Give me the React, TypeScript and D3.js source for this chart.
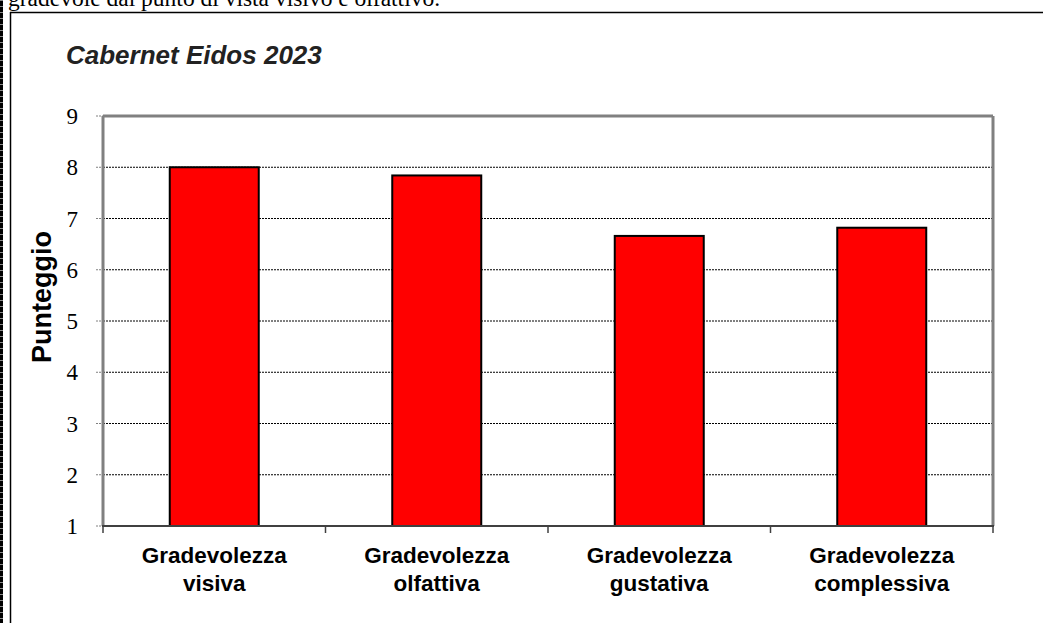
import React from "react";
import * as d3 from "d3";

const categories: string[][] = [
  ["Gradevolezza", "visiva"],
  ["Gradevolezza", "olfattiva"],
  ["Gradevolezza", "gustativa"],
  ["Gradevolezza", "complessiva"],
];
const values: number[] = [8.0, 7.84, 6.66, 6.82];
const yTicks: number[] = [1, 2, 3, 4, 5, 6, 7, 8, 9];
const title = "Cabernet Eidos 2023";
const yLabel = "Punteggio";
const topText = "gradevole dal punto di vista visivo e olfattivo.";

const W = 1043;
const H = 623;
const plot = { left: 103, right: 993, top: 116, bottom: 526 };

export default function App() {
  const x = d3
    .scaleBand<number>()
    .domain(categories.map((_, i) => i))
    .range([plot.left, plot.right])
    .paddingInner(0)
    .paddingOuter(0);
  const y = d3.scaleLinear().domain([1, 9]).range([plot.bottom, plot.top]);
  const barW = x.bandwidth() * 0.4;
  const boundaries = d3.range(categories.length + 1).map(
    (i) => plot.left + i * x.bandwidth()
  );

  return (
    <svg
      width={W}
      height={H}
      style={{ position: "absolute", left: 0, top: 0, background: "#fff" }}
    >
      <rect x={0} y={0} width={W} height={H} fill="#fff" />
      {/* left dashed strip */}
      <rect x={0} y={0} width={3} height={H} fill="#000" />
      <line
        x1={1.5}
        y1={0}
        x2={1.5}
        y2={H}
        stroke="#888"
        strokeWidth={3}
        strokeDasharray="1 5"
      />
      {/* top text (cropped at the top edge, as in the reference) */}
      <text
        x={8}
        y={6}
        fontFamily="Liberation Serif, serif"
        fontSize={23.5}
        fill="#000"
      >
        {topText}
      </text>
      {/* frame */}
      <line x1={10} y1={12.5} x2={W} y2={12.5} stroke="#000" strokeWidth={1.5} />
      <line x1={10.5} y1={12} x2={10.5} y2={H} stroke="#000" strokeWidth={1.5} />

      {/* title */}
      <text
        x={66}
        y={64}
        fontFamily="Liberation Sans, Arial, sans-serif"
        fontSize={26}
        fontWeight="bold"
        fontStyle="italic"
        fill="#222"
      >
        {title}
      </text>

      {/* y label */}
      <text
        transform={`translate(51,297) rotate(-90)`}
        textAnchor="middle"
        fontFamily="Liberation Sans, Arial, sans-serif"
        fontSize={27}
        fontWeight="bold"
        fill="#000"
      >
        {yLabel}
      </text>

      {/* gridlines */}
      {yTicks
        .filter((t) => t !== 1 && t !== 9)
        .map((t) => (
          <line
            key={"g" + t}
            x1={plot.left}
            x2={plot.right}
            y1={y(t)}
            y2={y(t)}
            stroke="#000"
            strokeWidth={1}
            strokeDasharray="2 1"
          />
        ))}

      {/* y ticks and labels */}
      {yTicks.map((t) => (
        <g key={"t" + t}>
          <line
            x1={plot.left - 7}
            x2={plot.left}
            y1={y(t)}
            y2={y(t)}
            stroke="#808080"
            strokeWidth={1}
            strokeDasharray="2 1"
          />
          <text
            x={78}
            y={y(t)}
            dy="0.35em"
            textAnchor="end"
            fontFamily="Liberation Serif, serif"
            fontSize={23}
            fill="#000"
          >
            {t}
          </text>
        </g>
      ))}

      {/* bars */}
      {values.map((v, i) => (
        <rect
          key={"b" + i}
          x={(x(i) as number) + (x.bandwidth() - barW) / 2}
          y={y(v)}
          width={barW}
          height={y(1) - y(v)}
          fill="#ff0000"
          stroke="#000"
          strokeWidth={2}
        />
      ))}

      {/* plot border */}
      <line x1={plot.left} x2={plot.right} y1={plot.top} y2={plot.top} stroke="#808080" strokeWidth={3} />
      <line x1={plot.right} x2={plot.right} y1={plot.top} y2={plot.bottom} stroke="#808080" strokeWidth={3} />
      <line x1={plot.left} x2={plot.left} y1={plot.top} y2={plot.bottom} stroke="#808080" strokeWidth={3} />
      <line x1={plot.left - 1} x2={plot.right + 1} y1={plot.bottom} y2={plot.bottom} stroke="#404040" strokeWidth={2} />

      {/* x ticks */}
      {boundaries.map((bx, i) => (
        <line
          key={"xt" + i}
          x1={bx}
          x2={bx}
          y1={plot.bottom}
          y2={plot.bottom + 7}
          stroke="#404040"
          strokeWidth={1.5}
        />
      ))}

      {/* x labels */}
      {categories.map((lines, i) => (
        <text
          key={"xl" + i}
          x={(x(i) as number) + x.bandwidth() / 2}
          y={563}
          textAnchor="middle"
          fontFamily="Liberation Sans, Arial, sans-serif"
          fontSize={22.5}
          fontWeight="bold"
          fill="#000"
        >
          {lines.map((l, j) => (
            <tspan key={j} x={(x(i) as number) + x.bandwidth() / 2} dy={j === 0 ? 0 : 28}>
              {l}
            </tspan>
          ))}
        </text>
      ))}
    </svg>
  );
}
